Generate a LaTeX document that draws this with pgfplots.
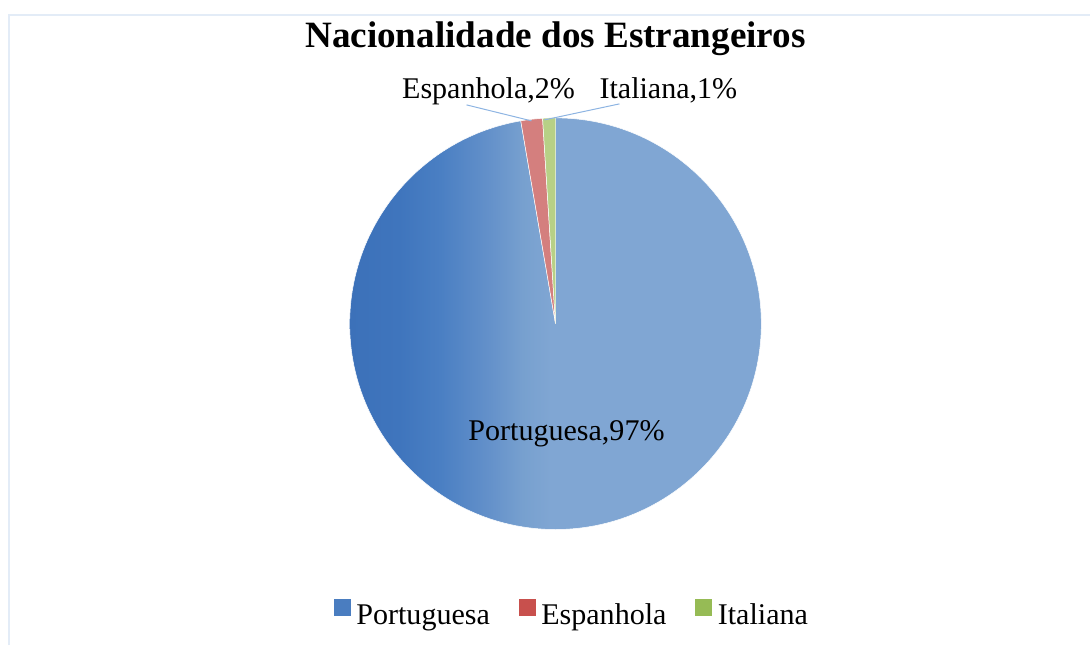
\documentclass[border=0pt]{standalone}
\usepackage{pgfplots}
\pgfplotsset{compat=1.18}
\usepackage{pgfplotstable}
\usepackage{fontspec}
\setmainfont{Liberation Serif}

\definecolor{pblue}{HTML}{4A7DC0}
\definecolor{pred}{HTML}{C8504D}
\definecolor{pgreen}{HTML}{96BB55}
\definecolor{slred}{HTML}{D47F7E}
\definecolor{slgreen}{HTML}{B7D086}
\definecolor{leader}{HTML}{8DB4E2}
\definecolor{frame}{HTML}{E3ECF7}

\pgfdeclarehorizontalshading{pieblue}{100bp}{%
  color(0bp)=(rgb,255:red,60;green,113;blue,185);
  color(25bp)=(rgb,255:red,60;green,113;blue,185);
  color(31bp)=(rgb,255:red,63;green,117;blue,189);
  color(36bp)=(rgb,255:red,74;green,127;blue,195);
  color(42bp)=(rgb,255:red,100;green,145;blue,202);
  color(46bp)=(rgb,255:red,119;green,160;blue,207);
  color(49.5bp)=(rgb,255:red,128;green,166;blue,211);
  color(100bp)=(rgb,255:red,128;green,166;blue,211)}

\pgfplotstableread{
name value
Portuguesa 97.3
Espanhola 1.7
Italiana 1.0
}\piedata

\pgfplotstablegetelem{0}{value}\of\piedata \let\vP\pgfplotsretval
\pgfplotstablegetelem{1}{value}\of\piedata \let\vE\pgfplotsretval
\pgfplotstablegetelem{2}{value}\of\piedata \let\vI\pgfplotsretval
\pgfmathsetmacro\aA{90}
\pgfmathsetmacro\aB{\aA-3.6*\vP}
\pgfmathsetmacro\aC{\aB-3.6*\vE}
\pgfmathsetmacro\aD{\aC-3.6*\vI}

\newcommand\lblfont{\fontsize{30.2}{36}\selectfont}

\begin{document}
\begin{tikzpicture}
\begin{axis}[
  scale only axis, width=1091bp, height=646bp,
  xmin=0, xmax=1091, ymin=0, ymax=646,
  hide axis, clip=false,
  legend columns=-1,
  legend style={at={(axis cs:571.5,33)}, anchor=center, draw=none, fill=none,
    font=\lblfont, inner sep=0pt,
    nodes={inner xsep=0pt, inner ysep=0pt},
    /tikz/every odd column/.append style={column sep=6bp},
    /tikz/every even column/.append style={column sep=29bp}},
]
\addlegendimage{legend image code/.code={\fill[pblue] (0bp,0bp) rectangle (16bp,16bp);}}
\addlegendentry{Portuguesa}
\addlegendimage{legend image code/.code={\fill[pred] (0bp,0bp) rectangle (16bp,16bp);}}
\addlegendentry{Espanhola}
\addlegendimage{legend image code/.code={\fill[pgreen] (0bp,0bp) rectangle (16bp,16bp);}}
\addlegendentry{Italiana}

% frame
\draw[frame, line width=2bp] (axis cs:9,0) -- (axis cs:9,631) -- (axis cs:1091,631);

% slices
\shadedraw[shading=pieblue, draw=white, line width=0.5bp]
  (axis cs:556,322) -- ++(\aA:206bp) arc[start angle=\aA, end angle=\aB, radius=206bp] -- cycle;
\filldraw[fill=slred, draw=white, line width=0.5bp]
  (axis cs:556,322) -- ++(\aB:206bp) arc[start angle=\aB, end angle=\aC, radius=206bp] -- cycle;
\filldraw[fill=slgreen, draw=white, line width=0.5bp]
  (axis cs:556,322) -- ++(\aC:206bp) arc[start angle=\aC, end angle=\aD, radius=206bp] -- cycle;

% leader lines
\draw[leader, line width=1bp] (axis cs:467,541) -- (axis cs:532,525);
\draw[leader, line width=1bp] (axis cs:620,542) -- (axis cs:545,526);

% labels
\node[anchor=base, font=\fontsize{37.3}{44}\selectfont\bfseries, inner sep=0pt] at (axis cs:556,598) {Nacionalidade dos Estrangeiros};
\node[anchor=base, font=\lblfont, inner sep=0pt] at (axis cs:489,547) {Espanhola,2\%};
\node[anchor=base, font=\lblfont, inner sep=0pt] at (axis cs:669,547) {Italiana,1\%};
\node[anchor=base, font=\lblfont, inner sep=0pt] at (axis cs:567,205) {Portuguesa,97\%};

\path (axis cs:0,0) rectangle (axis cs:1091,646);
\end{axis}
\end{tikzpicture}
\end{document}
